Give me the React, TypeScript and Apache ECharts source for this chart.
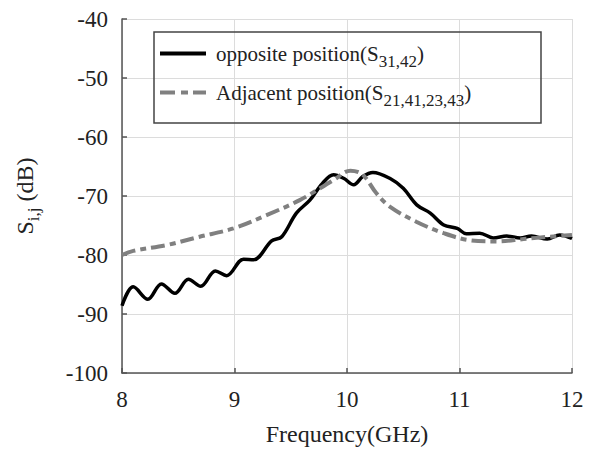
import React, { useEffect, useRef } from "react";
import * as echarts from "echarts";

const freqOpposite = [8.0, 8.1, 8.23, 8.35, 8.47, 8.59, 8.7, 8.83, 8.93, 9.08, 9.17, 9.33, 9.42, 9.55, 9.67, 9.78, 9.88, 9.97, 10.06, 10.14, 10.23, 10.38, 10.5, 10.62, 10.74, 10.86, 10.98, 11.06, 11.18, 11.3, 11.42, 11.54, 11.64, 11.78, 11.89, 12.0];
const dbOpposite = [-88.6, -85.4, -87.5, -84.9, -86.5, -84.1, -85.3, -82.7, -83.5, -80.7, -80.8, -77.6, -76.9, -72.9, -70.7, -67.9, -66.4, -67.0, -68.1, -66.7, -66.0, -67.0, -68.7, -71.5, -72.9, -74.9, -75.5, -76.4, -76.3, -77.1, -76.8, -77.1, -76.8, -77.3, -76.6, -77.2];

const freqAdjacent = [8.0, 8.1, 8.4, 8.69, 8.99, 9.29, 9.58, 9.88, 10.03, 10.14, 10.26, 10.38, 10.62, 10.86, 11.09, 11.33, 11.57, 11.8, 12.0];
const dbAdjacent = [-80.0, -79.3, -78.3, -76.9, -75.5, -73.2, -70.7, -67.3, -65.7, -66.4, -69.5, -71.8, -74.4, -76.3, -77.5, -77.7, -77.3, -76.9, -76.6];

const seriesNames = ["opposite", "adjacent"];
const legendLabels: Record<string, string> = {
  opposite: "{first|opposite position(S}{sub|31,42}{main|)}",
  adjacent: "{first|Adjacent position(S}{sub|21,41,23,43}{main|)}",
};
const xTicks = { min: 8, max: 12, interval: 1 };
const yTicks = { min: -100, max: -40, interval: 10 };

const FONT = "'Liberation Serif', 'Times New Roman', serif";
const SOLID_ICON = "path://M0,0h46v4h-46z";
const DASH_ICON = "path://M0,0h15v4h-15z M21,0h7v4h-7z M33,0h13v4h-13z";

export default function App() {
  const ref = useRef<HTMLDivElement>(null);
  useEffect(() => {
    if (!ref.current) return;
    const chart = echarts.init(ref.current, undefined, { renderer: "svg" });
    const zip = (xs: number[], ys: number[]) => xs.map((x, i) => [x, ys[i]]);
    chart.setOption({
      animation: false,
      backgroundColor: "#ffffff",
      textStyle: { fontFamily: FONT },
      grid: { left: 122, right: 20, top: 19, bottom: 76, outerBoundsMode: "none", containLabel: false },
      xAxis: {
        type: "value",
        min: xTicks.min,
        max: xTicks.max,
        interval: xTicks.interval,
        name: "Frequency(GHz)",
        nameLocation: "middle",
        nameGap: 49,
        nameTextStyle: { fontFamily: FONT, fontSize: 24, color: "#222" },
        axisLine: { show: true, lineStyle: { color: "#555", width: 1.5 } },
        axisTick: { show: true, inside: true, length: 5, lineStyle: { color: "#555", width: 1.5 } },
        axisLabel: { fontFamily: FONT, fontSize: 23, color: "#222", margin: 15 },
        splitLine: { show: true, lineStyle: { color: "#dcdcdc", width: 1 } },
      },
      yAxis: {
        type: "value",
        min: yTicks.min,
        max: yTicks.max,
        interval: yTicks.interval,
        name: "S{sub|i,j}{base| (dB)}",
        nameLocation: "middle",
        nameGap: 80,
        nameRotate: 90,
        nameTextStyle: {
          fontFamily: FONT,
          fontSize: 24,
          color: "#222",
          rich: {
            sub: { fontFamily: FONT, fontSize: 17, color: "#222", padding: [18, 0, 0, 0] },
            base: { fontFamily: FONT, fontSize: 24, color: "#222" },
          },
        },
        axisLine: { show: true, lineStyle: { color: "#555", width: 1.5 } },
        axisTick: { show: true, inside: true, length: 5, lineStyle: { color: "#555", width: 1.5 } },
        axisLabel: { fontFamily: FONT, fontSize: 23, color: "#222", margin: 14 },
        splitLine: { show: true, lineStyle: { color: "#dcdcdc", width: 1 } },
      },
      legend: {
        orient: "vertical",
        left: 160,
        top: 37,
        padding: 0,
        itemWidth: 46,
        itemHeight: 4,
        itemGap: 6,
        data: [
          { name: seriesNames[0], icon: SOLID_ICON },
          { name: seriesNames[1], icon: DASH_ICON },
        ],
        formatter: (name: string) => legendLabels[name],
        textStyle: {
          fontFamily: FONT,
          fontSize: 21,
          color: "#222",
          rich: {
            first: { fontFamily: FONT, fontSize: 21, color: "#222", lineHeight: 22, padding: [0, 0, 0, 5] },
            main: { fontFamily: FONT, fontSize: 21, color: "#222", lineHeight: 22 },
            sub: { fontFamily: FONT, fontSize: 17, color: "#222", lineHeight: 20, padding: [16, 0, 0, 0] },
          },
        },
      },
      graphic: [
        {
          type: "rect",
          shape: { x: 154, y: 32, width: 387, height: 91 },
          style: { fill: "none", stroke: "#444", lineWidth: 1.5 },
          z: 10,
        },
      ],
      series: [
        {
          name: "opposite",
          type: "line",
          data: zip(freqOpposite, dbOpposite),
          smooth: 0.35,
          symbol: "none",
          lineStyle: { color: "#000", width: 3.5 },
          itemStyle: { color: "#000" },
          z: 3,
        },
        {
          name: "adjacent",
          type: "line",
          data: zip(freqAdjacent, dbAdjacent),
          smooth: 0.35,
          symbol: "none",
          lineStyle: { color: "#808080", width: 4, type: [14, 5, 6, 5] },
          itemStyle: { color: "#808080" },
          z: 4,
        },
      ],
    });
    return () => chart.dispose();
  }, []);
  return (
    <div
      ref={ref}
      style={{ position: "fixed", left: 0, top: 0, width: 592, height: 449, background: "#fff" }}
    />
  );
}
